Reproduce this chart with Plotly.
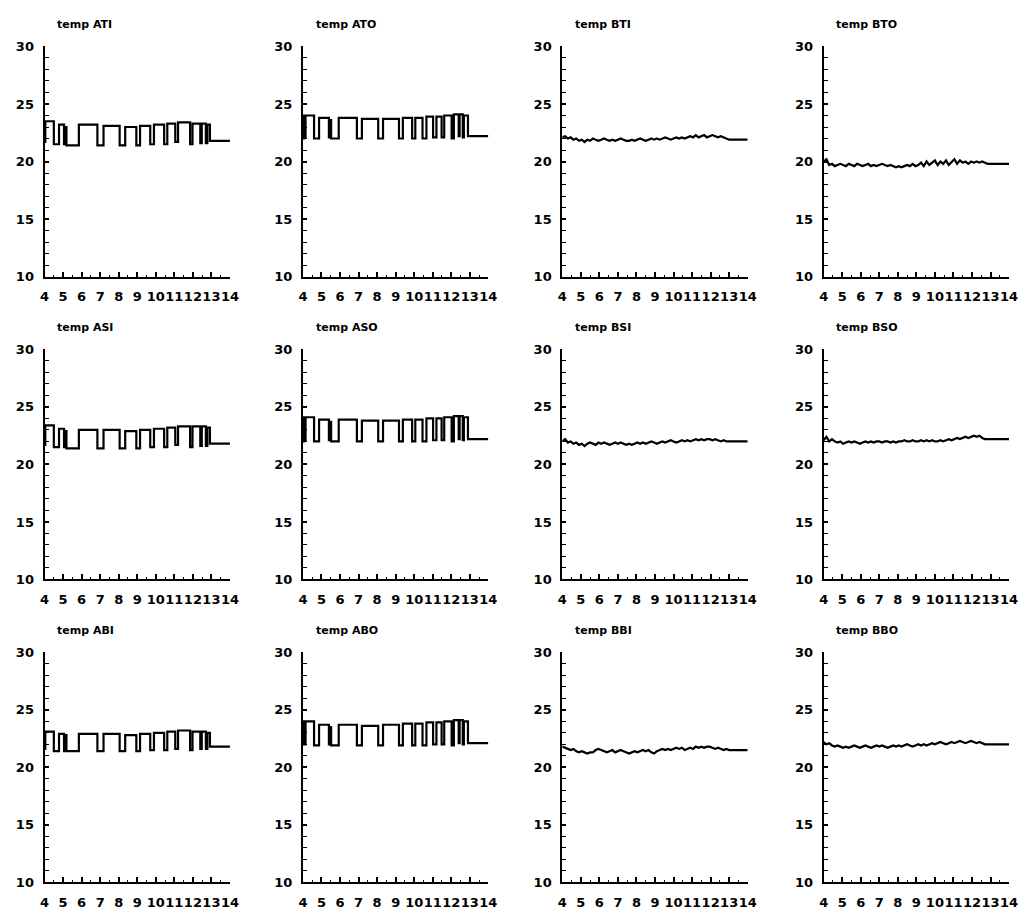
import plotly.graph_objects as go

# ---------------- data ----------------
# step-series (square waves) for the A sensors: switching times (days)
t_inner = [4.00, 4.02, 4.04, 4.50, 4.78, 5.05, 5.13, 5.18, 5.85, 6.85, 7.18, 8.05, 8.35,
           8.95, 9.15, 9.70, 9.90, 10.45, 10.62, 11.05, 11.20, 11.85, 11.98, 12.40,
           12.48, 12.70, 12.78, 12.92, 14.00]
t_outer = [4.00, 4.03, 4.06, 4.10, 4.14, 4.60, 4.87, 5.40, 5.45, 5.52, 5.93, 6.91, 7.18,
           8.06, 8.32, 9.18, 9.39, 9.89, 10.06, 10.45, 10.66, 11.02, 11.20, 11.48,
           11.62, 12.02, 12.14, 12.40, 12.45, 12.62, 12.68, 12.90, 14.00]

temp_ATI = [23.4, 21.7, 23.5, 21.5, 23.2, 21.5, 23.0, 21.4, 23.2, 21.4, 23.1, 21.4, 23.0,
            21.4, 23.1, 21.5, 23.2, 21.5, 23.3, 21.7, 23.4, 21.5, 23.3, 21.6, 23.3,
            21.6, 23.2, 21.8, 21.8]
temp_ASI = [23.3, 21.7, 23.4, 21.5, 23.1, 21.5, 22.9, 21.4, 23.0, 21.4, 23.0, 21.4, 22.9,
            21.4, 23.0, 21.5, 23.1, 21.5, 23.2, 21.7, 23.3, 21.5, 23.3, 21.6, 23.3,
            21.6, 23.2, 21.8, 21.8]
temp_ABI = [23.1, 21.6, 23.1, 21.4, 22.9, 21.4, 22.8, 21.4, 22.9, 21.4, 22.9, 21.4, 22.8,
            21.4, 22.9, 21.5, 23.0, 21.5, 23.1, 21.6, 23.2, 21.5, 23.1, 21.6, 23.1,
            21.6, 23.0, 21.8, 21.8]

temp_ATO = [24.0, 22.0, 24.0, 22.1, 24.0, 22.0, 23.8, 22.1, 23.6, 22.0, 23.8, 22.0, 23.7,
            22.0, 23.7, 22.0, 23.8, 22.0, 23.8, 22.0, 23.9, 22.1, 23.9, 22.1, 24.0,
            22.0, 24.1, 22.2, 24.1, 22.1, 24.0, 22.2, 22.2]
temp_ASO = [24.1, 22.0, 24.1, 22.1, 24.1, 22.0, 23.9, 22.1, 23.7, 22.0, 23.9, 22.0, 23.8,
            22.0, 23.8, 22.0, 23.9, 22.0, 23.9, 22.0, 24.0, 22.1, 24.0, 22.1, 24.1,
            22.0, 24.2, 22.2, 24.2, 22.1, 24.1, 22.2, 22.2]
temp_ABO = [24.0, 22.0, 24.0, 22.0, 24.0, 21.9, 23.7, 22.0, 23.5, 21.9, 23.7, 21.9, 23.6,
            21.9, 23.7, 21.9, 23.8, 21.9, 23.8, 21.9, 23.9, 22.0, 23.9, 22.0, 24.0,
            21.9, 24.1, 22.1, 24.1, 22.0, 24.0, 22.1, 22.1]

# sampled series for the B sensors
t_b = [4.00, 4.15, 4.30, 4.45, 4.60, 4.75, 4.90, 5.05, 5.20, 5.35, 5.50, 5.65, 5.80, 5.95,
       6.10, 6.25, 6.40, 6.55, 6.70, 6.85, 7.00, 7.15, 7.30, 7.45, 7.60, 7.75, 7.90, 8.05,
       8.20, 8.35, 8.50, 8.65, 8.80, 8.95, 9.10, 9.25, 9.40, 9.55, 9.70, 9.85, 10.00, 10.15,
       10.30, 10.45, 10.60, 10.75, 10.90, 11.05, 11.20, 11.35, 11.50, 11.65, 11.80, 11.95,
       12.10, 12.25, 12.40, 12.55, 12.70, 12.85, 13.00, 14.00]

temp_BTI = [22.1, 22.2, 22.0, 22.1, 21.9, 22.0, 21.8, 21.9, 21.7, 21.9, 21.8, 22.0, 21.9, 21.8,
            21.9, 22.0, 21.9, 21.8, 21.9, 21.8, 21.9, 22.0, 21.9, 21.8, 21.8, 21.9, 21.8, 21.9,
            22.0, 21.9, 21.8, 21.9, 22.0, 21.9, 22.0, 21.9, 22.0, 22.1, 22.0, 21.9, 22.0, 22.1,
            22.0, 22.1, 22.0, 22.1, 22.2, 22.1, 22.3, 22.1, 22.2, 22.3, 22.1, 22.2, 22.3, 22.2,
            22.1, 22.2, 22.1, 22.0, 21.9, 21.9]
temp_BTO = [20.0, 20.2, 19.7, 19.8, 19.6, 19.7, 19.8, 19.7, 19.6, 19.8, 19.7, 19.6, 19.8, 19.7,
            19.6, 19.7, 19.8, 19.6, 19.7, 19.6, 19.7, 19.8, 19.7, 19.6, 19.7, 19.6, 19.5, 19.6,
            19.5, 19.6, 19.7, 19.6, 19.8, 19.6, 19.7, 19.9, 19.6, 20.0, 19.7, 19.9, 20.1, 19.7,
            20.0, 19.8, 20.1, 19.7, 20.0, 20.2, 19.8, 20.1, 19.9, 20.0, 19.8, 20.0, 19.9, 20.0,
            19.9, 20.0, 19.9, 19.8, 19.8, 19.8]
temp_BSI = [22.0, 22.2, 21.9, 22.0, 21.8, 21.9, 21.7, 21.8, 21.6, 21.8, 21.9, 21.8, 21.7, 21.9,
            21.8, 21.9, 21.8, 21.7, 21.8, 21.9, 21.8, 21.9, 21.8, 21.7, 21.8, 21.7, 21.8, 21.9,
            21.8, 21.9, 21.8, 21.9, 22.0, 21.9, 21.8, 21.9, 22.0, 21.9, 22.0, 22.1, 22.0, 21.9,
            22.0, 22.1, 22.0, 22.1, 22.0, 22.1, 22.2, 22.1, 22.2, 22.1, 22.2, 22.2, 22.1, 22.2,
            22.1, 22.0, 22.1, 22.0, 22.0, 22.0]
temp_BSO = [22.1, 22.4, 22.0, 22.2, 22.0, 21.9, 22.0, 21.8, 21.9, 22.0, 21.9, 22.0, 21.9, 21.8,
            21.9, 22.0, 21.9, 22.0, 21.9, 22.0, 22.0, 21.9, 22.0, 22.0, 21.9, 22.0, 21.9, 22.0,
            22.0, 22.1, 22.0, 22.0, 22.1, 22.0, 22.0, 22.1, 22.0, 22.1, 22.0, 22.1, 22.0, 22.0,
            22.1, 22.0, 22.1, 22.2, 22.1, 22.2, 22.3, 22.2, 22.3, 22.4, 22.3, 22.4, 22.5, 22.4,
            22.5, 22.3, 22.2, 22.2, 22.2, 22.2]
temp_BBI = [21.8, 21.7, 21.6, 21.5, 21.6, 21.4, 21.3, 21.4, 21.3, 21.2, 21.3, 21.3, 21.5, 21.6,
            21.5, 21.4, 21.3, 21.4, 21.5, 21.3, 21.4, 21.5, 21.4, 21.3, 21.2, 21.3, 21.4, 21.3,
            21.4, 21.5, 21.4, 21.5, 21.3, 21.2, 21.4, 21.5, 21.6, 21.5, 21.6, 21.5, 21.6, 21.7,
            21.6, 21.7, 21.5, 21.6, 21.7, 21.6, 21.8, 21.7, 21.8, 21.7, 21.8, 21.8, 21.7, 21.6,
            21.7, 21.6, 21.5, 21.6, 21.5, 21.5]
temp_BBO = [22.2, 22.0, 22.1, 21.9, 21.8, 21.9, 21.8, 21.7, 21.8, 21.7, 21.8, 21.9, 21.8, 21.7,
            21.8, 21.9, 21.8, 21.7, 21.8, 21.9, 21.8, 21.9, 21.8, 21.7, 21.8, 21.9, 21.8, 21.9,
            21.8, 21.9, 22.0, 21.9, 21.8, 21.9, 22.0, 21.9, 22.0, 21.9, 22.0, 22.1, 22.0, 22.1,
            22.2, 22.1, 22.0, 22.1, 22.2, 22.1, 22.2, 22.3, 22.2, 22.1, 22.2, 22.3, 22.2, 22.1,
            22.2, 22.1, 22.0, 22.0, 22.0, 22.0]

panel_titles = [["temp ATI", "temp ATO", "temp BTI", "temp BTO"],
                ["temp ASI", "temp ASO", "temp BSI", "temp BSO"],
                ["temp ABI", "temp ABO", "temp BBI", "temp BBO"]]
x_ticks = [4, 5, 6, 7, 8, 9, 10, 11, 12, 13, 14]
y_ticks = [10, 15, 20, 25, 30]

series = [[(t_inner, temp_ATI, "hv"), (t_outer, temp_ATO, "hv"), (t_b, temp_BTI, "linear"), (t_b, temp_BTO, "linear")],
          [(t_inner, temp_ASI, "hv"), (t_outer, temp_ASO, "hv"), (t_b, temp_BSI, "linear"), (t_b, temp_BSO, "linear")],
          [(t_inner, temp_ABI, "hv"), (t_outer, temp_ABO, "hv"), (t_b, temp_BBI, "linear"), (t_b, temp_BBO, "linear")]]

for row in series:
    for t, v, _ in row:
        assert len(t) == len(v), (len(t), len(v))

# ---------------- layout ----------------
# page has an 8px body margin, so the figure is drawn 16px smaller and offset
OFF = 8
W, H = 1030 - 2 * OFF, 921 - 2 * OFF
col_left = [40, 302, 565, 830]
plot_w = 188
row_top = [40, 348, 656]
plot_h = 234

FONT = "DejaVu Sans"
fig = go.Figure()
annotations = []
k = 0
for r in range(3):
    for c in range(4):
        k += 1
        xa = "x" if k == 1 else f"x{k}"
        ya = "y" if k == 1 else f"y{k}"
        t, v, shape = series[r][c]
        fig.add_trace(go.Scatter(x=t, y=v, mode="lines", line=dict(color="black", width=2.2, shape=shape),
                                 xaxis=xa, yaxis=ya, showlegend=False, hoverinfo="skip"))
        x0 = (col_left[c] - OFF) / W
        x1 = (col_left[c] + plot_w - OFF) / W
        y1 = 1 - (row_top[r] - OFF) / H
        y0 = 1 - (row_top[r] + plot_h - OFF) / H
        xname = "xaxis" if k == 1 else f"xaxis{k}"
        yname = "yaxis" if k == 1 else f"yaxis{k}"
        fig.layout[xname] = dict(domain=[x0, x1], anchor=ya, range=[4, 14], tickvals=x_ticks,
                                 ticks="inside", ticklen=5, tickwidth=1.5, tickcolor="black",
                                 showline=True, linewidth=2, linecolor="black", showgrid=False,
                                 zeroline=False, tickangle=0, ticklabelstandoff=7,
                                 tickfont=dict(family=FONT, size=13, color="black", weight="bold"),
                                 minor=dict(dtick=0.5, tick0=4, ticks="inside", ticklen=2,
                                            tickwidth=1, tickcolor="black"),
                                 fixedrange=True)
        fig.layout[yname] = dict(domain=[y0, y1], anchor=xa, range=[10, 30], tickvals=y_ticks,
                                 ticks="inside", ticklen=4, tickwidth=1.5, tickcolor="black",
                                 showline=True, linewidth=2, linecolor="black", showgrid=False,
                                 zeroline=False, ticklabelstandoff=6,
                                 tickfont=dict(family=FONT, size=13, color="black", weight="bold"),
                                 minor=dict(dtick=1, tick0=10, ticks="inside", ticklen=4,
                                            tickwidth=1, tickcolor="black"),
                                 fixedrange=True)
        annotations.append(dict(text=panel_titles[r][c], xref="paper", yref="paper",
                                x=(col_left[c] + 11 - OFF) / W, y=1 - (row_top[r] - 22 - OFF) / H,
                                xanchor="left", yanchor="middle", showarrow=False,
                                font=dict(family=FONT, size=11, color="black", weight="bold")))

fig.update_layout(width=W, height=H, margin=dict(l=0, r=0, t=0, b=0),
                  paper_bgcolor="white", plot_bgcolor="white", annotations=annotations)
fig.write_html("out.html")
